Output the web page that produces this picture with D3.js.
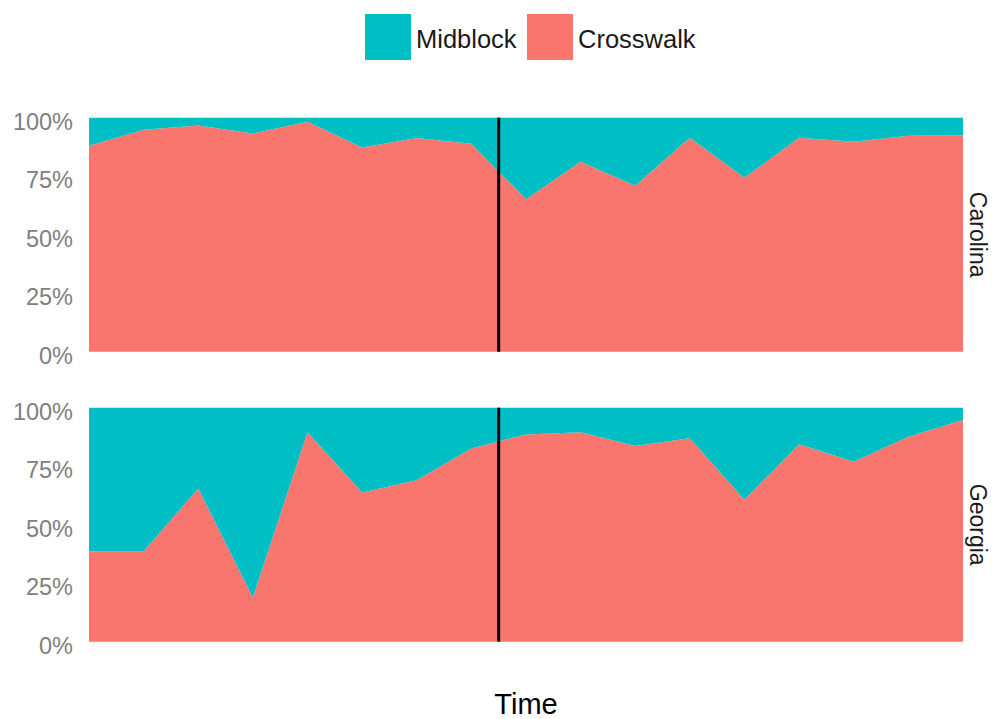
<!DOCTYPE html>
<html>
<head>
<meta charset="utf-8">
<script src="https://cdn.jsdelivr.net/npm/d3@7"></script>
<style>
  body { margin: 0; background: white; }
  text { font-family: "Liberation Sans", Arial, sans-serif; }
</style>
</head>
<body>
<div id="container"></div>
<script>
let w = 993;
let h = 719;

// data: share of crossings per time step
let times = d3.range(0, 17);
let states = ["Carolina", "Georgia"];
let carolinaCrosswalk = [0.88, 0.948, 0.967, 0.933, 0.983, 0.873, 0.913, 0.889, 0.652, 0.812, 0.709, 0.914, 0.743, 0.914, 0.897, 0.923, 0.924];
let carolinaMidblock  = [0.12, 0.052, 0.033, 0.067, 0.017, 0.127, 0.087, 0.111, 0.348, 0.188, 0.291, 0.086, 0.257, 0.086, 0.103, 0.077, 0.076];
let georgiaCrosswalk  = [0.385, 0.385, 0.655, 0.188, 0.895, 0.638, 0.69, 0.826, 0.886, 0.895, 0.836, 0.869, 0.607, 0.844, 0.769, 0.876, 0.947];
let georgiaMidblock   = [0.615, 0.615, 0.345, 0.812, 0.105, 0.362, 0.31, 0.174, 0.114, 0.105, 0.164, 0.131, 0.393, 0.156, 0.231, 0.124, 0.053];
let interventionTime = 7.5;
let yTicks = [0, 0.25, 0.5, 0.75, 1];
let keys = ["Crosswalk", "Midblock"];
let legendKeys = ["Midblock", "Crosswalk"];
let colors = { Midblock: "#00BFC4", Crosswalk: "#F8766D" };

let seriesByState = {
  Carolina: times.map((t, i) => ({ time: t, Crosswalk: carolinaCrosswalk[i], Midblock: carolinaMidblock[i] })),
  Georgia: times.map((t, i) => ({ time: t, Crosswalk: georgiaCrosswalk[i], Midblock: georgiaMidblock[i] }))
};

let viz = d3.select("#container").append("svg")
    .attr("width", w)
    .attr("height", h)
    .style("background-color", "white");

let x = d3.scaleLinear().domain([0, 16]).range([89, 963]);
let panelTops = [117.7, 407.7];
let panelH = 234;

let stack = d3.stack().keys(keys);

states.forEach(function(state, si){
  let top = panelTops[si];
  let y = d3.scaleLinear().domain([0, 1]).range([top + panelH, top]);
  let g = viz.append("g");

  let area = d3.area()
    .x(d => x(d.data.time))
    .y0(d => y(d[0]))
    .y1(d => y(d[1]));

  g.selectAll(".layer").data(stack(seriesByState[state])).enter()
    .append("path")
      .attr("class", "layer")
      .attr("d", area)
      .attr("fill", d => colors[d.key]);

  g.append("line")
    .attr("x1", x(interventionTime)).attr("x2", x(interventionTime))
    .attr("y1", y(0)).attr("y2", y(1))
    .attr("stroke", "black")
    .attr("stroke-width", 3);

  let yAxis = d3.axisLeft(y).tickValues(yTicks)
    .tickFormat(d3.format(".0%")).tickSize(0).tickPadding(16);
  let ax = g.append("g").attr("transform", "translate(89,0)").call(yAxis);
  ax.select(".domain").remove();
  ax.selectAll("text")
    .attr("fill", "#808080")
    .style("font-size", "23.5px")
    .attr("dy", "0.5em");

  // strip label
  g.append("text")
    .attr("transform", "translate(970," + (top + panelH / 2) + ") rotate(90)")
    .attr("text-anchor", "middle")
    .attr("fill", "#1a1a1a")
    .style("font-size", "23px")
    .text(state);
});

// axis title
viz.append("text")
  .attr("x", x(8)).attr("y", 714)
  .attr("text-anchor", "middle")
  .attr("fill", "#000")
  .style("font-size", "29px")
  .text("Time");

// legend
let legendX = [365, 527];
let lg = viz.selectAll(".leg").data(legendKeys).enter()
  .append("g").attr("class", "leg")
  .attr("transform", (d, i) => "translate(" + legendX[i] + ",14)");
lg.append("rect")
  .attr("width", 46).attr("height", 46)
  .attr("fill", d => colors[d]);
lg.append("text")
  .attr("x", 51).attr("y", 34)
  .attr("fill", "#1a1a1a")
  .style("font-size", "25.5px")
  .text(d => d);
</script>
</body>
</html>
